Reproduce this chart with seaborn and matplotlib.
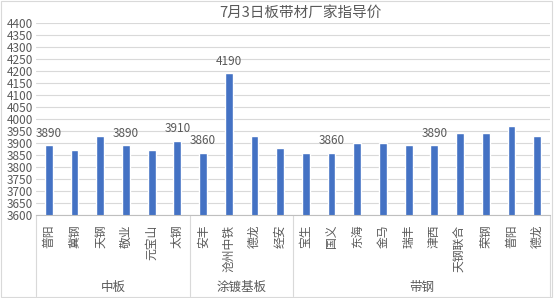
import matplotlib
matplotlib.use("Agg")
import matplotlib.pyplot as plt
import seaborn as sns
import pandas as pd
from matplotlib.patches import Rectangle

groups = ["中板", "涂镀基板", "带钢"]
group_sizes = [6, 4, 10]
names = ["普阳", "冀钢", "天钢", "敬业", "元宝山", "太钢",
         "安丰", "沧州中铁", "德龙", "经安",
         "宝生", "国义", "东海", "金马", "瑞丰", "津西", "天钢联合", "荣钢", "普阳", "德龙"]
prices = [3890, 3870, 3930, 3890, 3870, 3910,
          3860, 4190, 3930, 3880,
          3860, 3860, 3900, 3900, 3890, 3890, 3940, 3940, 3970, 3930]
labeled = [0, 3, 5, 6, 7, 11, 15]
title = "7月3日板带材厂家指导价"

sns.set_theme(style="white")
plt.rcParams['font.family'] = ['Noto Sans CJK SC', 'DejaVu Sans']
gray = "#595959"

grp_col = []
for g, n in zip(groups, group_sizes):
    grp_col += [g] * n
keys = [f"{g}_{i}_{n}" for i, (g, n) in enumerate(zip(grp_col, names))]
df = pd.DataFrame({"key": keys, "name": names, "price": prices, "group": grp_col})

fig = plt.figure(figsize=(5.54, 2.98), dpi=100)
ax = fig.add_axes([36/554, 1-215/298, (550-36)/554, (215-23)/298])
sns.barplot(data=df, x="key", y="price", order=keys, color="#4472C4",
            width=0.3, saturation=1, ax=ax)

ax.set_ylim(3600, 4400)
ax.set_xlim(-0.5, len(keys)-0.5)
ax.set_yticks(range(3600, 4401, 50))
ax.yaxis.grid(True, color="#D9D9D9", lw=0.8)
ax.set_axisbelow(True)
for s in ["top", "right", "left"]:
    ax.spines[s].set_visible(False)
ax.spines["bottom"].set_color("#BFBFBF")
ax.spines["bottom"].set_linewidth(0.8)
ax.tick_params(axis="y", length=0, labelsize=8.5, labelcolor=gray, pad=2)
ax.tick_params(axis="x", length=0, labelsize=8.5, labelcolor=gray, pad=7)
ax.set_xticks(range(len(keys)))
ax.set_xticklabels(names, rotation=90, va="top", ha="center")
ax.set_xlabel("")
ax.set_ylabel("")

for i in labeled:
    ax.annotate(str(prices[i]), (i, prices[i]), xytext=(0, 4), textcoords="offset points",
                ha="center", va="bottom", fontsize=8.5, color=gray)

# group separators and labels
trans = ax.get_xaxis_transform()
bounds = [-0.5]
for n in group_sizes:
    bounds.append(bounds[-1] + n)
for b in bounds:
    ax.plot([b, b], [0, -0.42], transform=trans, color="#D9D9D9", lw=0.8, clip_on=False)
for g, a, b in zip(groups, bounds[:-1], bounds[1:]):
    ax.text((a+b)/2, -0.375, g, transform=trans, ha="center", va="center",
            fontsize=9, color=gray)

fig.text(300/554, 1-13/298, title, ha="center", va="center", fontsize=10.5, color=gray)
fig.patches.append(Rectangle((0.002, 0.004), 0.995, 0.992, transform=fig.transFigure,
                             fill=False, edgecolor="#D9D9D9", lw=0.8))
fig.savefig("out.png", dpi=100)
